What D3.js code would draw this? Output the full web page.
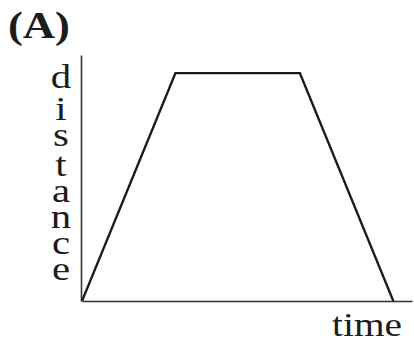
<!DOCTYPE html>
<html>
<head>
<meta charset="utf-8">
<script src="https://cdn.jsdelivr.net/npm/d3@7"></script>
<style>
  body { margin: 0; background: #fff; }
  text { font-family: "Liberation Serif", "Times New Roman", serif; fill: #1c1c1c; }
</style>
</head>
<body>
<div id="container"></div>
<script>
// data: a trip out, a stop, and the trip back
const times = [0, 3, 7, 10];
const distances = [0, 10, 10, 0];
const panelLabel = "(A)";
const xLabel = "time";
const yLabel = "distance";

// dimensions
const w = 414;
const h = 344;

// scales
const xScale = d3.scaleLinear().domain([0, 10.6]).range([82, 412]);
const yScale = d3.scaleLinear().domain([0, 10.8]).range([301, 55]);

const svg = d3.select("#container")
              .append("svg")
              .attr("width", w)
              .attr("height", h);

// axes, just the lines
svg.append("g")
   .attr("transform", "translate(0," + yScale(0) + ")")
   .call(d3.axisBottom(xScale).tickValues([]).tickSizeOuter(0))
   .select(".domain")
   .attr("stroke", "#333")
   .attr("stroke-width", 1.6);

svg.append("g")
   .attr("transform", "translate(" + (xScale(0) - 1) + ",0)")
   .call(d3.axisLeft(yScale).tickValues([]).tickSizeOuter(0))
   .select(".domain")
   .attr("stroke", "#333")
   .attr("stroke-width", 1.6);

// the trapezoid
const line = d3.line()
               .x((d, i) => xScale(times[i]))
               .y((d) => yScale(d));

svg.append("path")
   .datum(distances)
   .attr("d", line)
   .attr("fill", "none")
   .attr("stroke", "#1a1a1a")
   .attr("stroke-width", 2.3)
   .attr("stroke-linejoin", "miter");

// panel label
svg.append("text")
   .attr("x", 8)
   .attr("y", 38)
   .attr("font-size", "37px")
   .attr("font-weight", "bold")
   .attr("textLength", 62)
   .attr("lengthAdjust", "spacingAndGlyphs")
   .text(panelLabel);

// x label
svg.append("text")
   .attr("x", 332)
   .attr("y", 336)
   .attr("font-size", "34px")
   .attr("textLength", 70)
   .attr("lengthAdjust", "spacingAndGlyphs")
   .text(xLabel);

// y label, one letter under the other like a short stack:
// each baseline sits below the last by the letter's own height plus a gap
const fontSize = 34;
const sx = 1.2;
const ctx = document.createElement("canvas").getContext("2d");
ctx.font = fontSize + "px 'Liberation Serif'";
const yText = svg.append("text")
                 .attr("transform", "scale(" + sx + ",1)")
                 .attr("text-anchor", "middle")
                 .attr("font-size", fontSize + "px");
let base = 88;
yLabel.split("").forEach(function(ch, i){
    if (i > 0) base += ctx.measureText(ch).actualBoundingBoxAscent + 10;
    yText.append("tspan")
         .attr("x", 61 / sx)
         .attr("y", base)
         .text(ch);
});
</script>
</body>
</html>
